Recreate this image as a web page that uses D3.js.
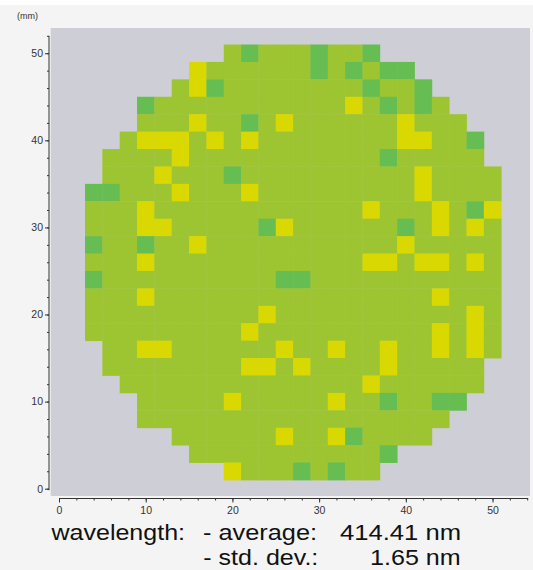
<!DOCTYPE html>
<html><head><meta charset="utf-8">
<script src="https://cdn.jsdelivr.net/npm/d3@7/dist/d3.min.js"></script>
<style>
html,body{margin:0;padding:0;background:#f4f4f4;}
svg{display:block;}
</style>
</head><body>
<svg id="chart" width="533" height="570"></svg>
<script>
// ---- data ----
// wafer map: 25 rows (top row first) x 24 columns of 2 mm dies
const colStartsMM = [3,5,7,9,11,13,15,17,19,21,23,25,27,29,31,33,35,37,39,41,43,45,47,49];
const rowTopsMM   = [51,49,47,45,43,41,39,37,35,33,31,29,27,25,23,21,19,17,15,13,11,9,7,5,3];
const rowFirstCol = [8,6,5,3,3,2,1,1,0,0,0,0,0,0,0,0,0,1,1,2,3,3,5,6,8];
const rowLastCol  = [16,18,19,20,21,22,22,23,23,23,23,23,23,23,23,23,23,23,22,22,21,20,19,17,16];
// dies above nominal wavelength (yellow): [row, col]
const highCells = [
  [1,6],[2,6],[3,15],[4,6],[4,11],[4,18],
  [5,3],[5,4],[5,5],[5,7],[5,9],[5,18],[5,19],
  [6,5],[7,4],[7,19],[8,5],[8,9],[8,19],
  [9,3],[9,16],[9,20],[9,23],
  [10,3],[10,4],[10,11],[10,20],[10,22],
  [11,6],[11,18],
  [12,3],[12,16],[12,17],[12,19],[12,20],[12,22],
  [14,3],[14,20],[15,10],[15,22],[16,9],[16,20],[16,22],
  [17,3],[17,4],[17,11],[17,14],[17,17],[17,20],[17,22],
  [18,9],[18,10],[18,12],[18,17],
  [19,16],[20,8],[20,14],[22,11],[22,14],[24,8]
];
// dies below nominal wavelength (green): [row, col]
const lowCells = [
  [0,9],[0,13],[0,16],[1,13],[1,15],[1,17],[1,18],
  [2,7],[2,16],[2,19],[3,3],[3,17],[3,19],[4,9],[5,22],
  [6,17],[7,8],[8,0],[8,1],[9,22],[10,10],[10,18],
  [11,0],[11,3],[13,0],[13,11],[13,12],
  [20,17],[20,20],[20,21],[22,15],[23,17],[24,12],[24,14]
];
const cellSizeMM = 2;
const xMajorTicks = [0,10,20,30,40,50];
const yMajorTicks = [0,10,20,30,40,50];
const xMinorTicks = [0,2,4,6,8,10,12,14,16,18,20,22,24,26,28,30,32,34,36,38,40,42,44,46,48,50,52,54];
const yMinorTicks = [0,2,4,6,8,10,12,14,16,18,20,22,24,26,28,30,32,34,36,38,40,42,44,46,48,50,52];
const levelColors = {nominal:"#9dc531", high:"#d9d800", low:"#66bd52"};
const unitLabel = "(mm)";
const quantityLabel = "wavelength:";
const statLabels = ["- average:", "- std. dev.:"];
const statValues = ["414.41 nm", "1.65 nm"];

// ---- drawing ----
const svg = d3.select("#chart");
svg.append("rect").attr("x",0).attr("y",0).attr("width",533).attr("height",5).attr("fill","#ffffff");

const x = d3.scaleLinear().domain([0,54]).range([59, 527.2]);
const y = d3.scaleLinear().domain([0,52]).range([488.7, 35.8]);

// plot background
svg.append("rect").attr("x",50.7).attr("y",28).attr("width",530-50.7).attr("height",496-28).attr("fill","#cecfd6");

// cells
const levelOf = new Map();
highCells.forEach(([r,c]) => levelOf.set(r+"_"+c, "high"));
lowCells.forEach(([r,c]) => levelOf.set(r+"_"+c, "low"));
const cells = [];
rowTopsMM.forEach((top, r) => {
  for (let c = rowFirstCol[r]; c <= rowLastCol[r]; c++) {
    cells.push({x0: colStartsMM[c], yTop: top, level: levelOf.get(r+"_"+c) || "nominal"});
  }
});
svg.append("g").selectAll("rect").data(cells).join("rect")
  .attr("x", d => x(d.x0))
  .attr("y", d => y(d.yTop))
  .attr("width", d => x(d.x0 + cellSizeMM) - x(d.x0) + 0.4)
  .attr("height", d => y(d.yTop - cellSizeMM) - y(d.yTop) + 0.4)
  .attr("fill", d => levelColors[d.level]);

// axes
const axisColor = "#333";
const yAxisX = 49, xAxisY = 498.5;
const gy = svg.append("g").attr("transform", `translate(${yAxisX},0)`);
gy.call(d3.axisLeft(y).tickValues(yMajorTicks).tickSize(4).tickPadding(2).tickFormat(d3.format("d")));
const gyMinor = svg.append("g").attr("transform", `translate(${yAxisX},0)`);
gyMinor.call(d3.axisLeft(y).tickValues(yMinorTicks).tickSize(2).tickFormat(""));
gyMinor.select(".domain").remove();

const gx = svg.append("g").attr("transform", `translate(0,${xAxisY})`);
gx.call(d3.axisBottom(x).tickValues(xMajorTicks).tickSize(4).tickPadding(4.5).tickFormat(d3.format("d")));
const gxMinor = svg.append("g").attr("transform", `translate(0,${xAxisY})`);
gxMinor.call(d3.axisBottom(x).tickValues(xMinorTicks).tickSize(2).tickFormat(""));
gxMinor.select(".domain").remove();

gy.select(".domain").attr("stroke", axisColor).attr("d", `M0,${y(52)}V${y(0)+1.5}`);
gx.select(".domain").attr("stroke", axisColor).attr("d", `M${x(0)},0H${x(54)+1}`);
svg.selectAll(".tick line").attr("stroke", axisColor);
svg.selectAll(".tick text").attr("fill", "#333").style("font-family","'Liberation Sans', Arial, sans-serif").style("font-size","10.5px");

// unit label
svg.append("text").attr("x",17).attr("y",19).text(unitLabel)
  .style("font-family","'Liberation Sans', Arial, sans-serif").style("font-size","9px").attr("fill","#333");

// stats text
const tf = "'Liberation Sans', Arial, sans-serif";
function addText(t, xx, yy, len){
  svg.append("text").attr("x",xx).attr("y",yy).text(t)
    .attr("textLength",len).attr("lengthAdjust","spacingAndGlyphs")
    .style("font-family",tf).style("font-size","22px").attr("fill","#111");
}
addText(quantityLabel, 51.5, 540, 133.5);
addText(statLabels[0], 203, 540, 114);
addText(statValues[0], 340, 540, 121);
addText(statLabels[1], 203.3, 565, 115);
addText(statValues[1], 370, 565, 90.7);
</script>
</body></html>
